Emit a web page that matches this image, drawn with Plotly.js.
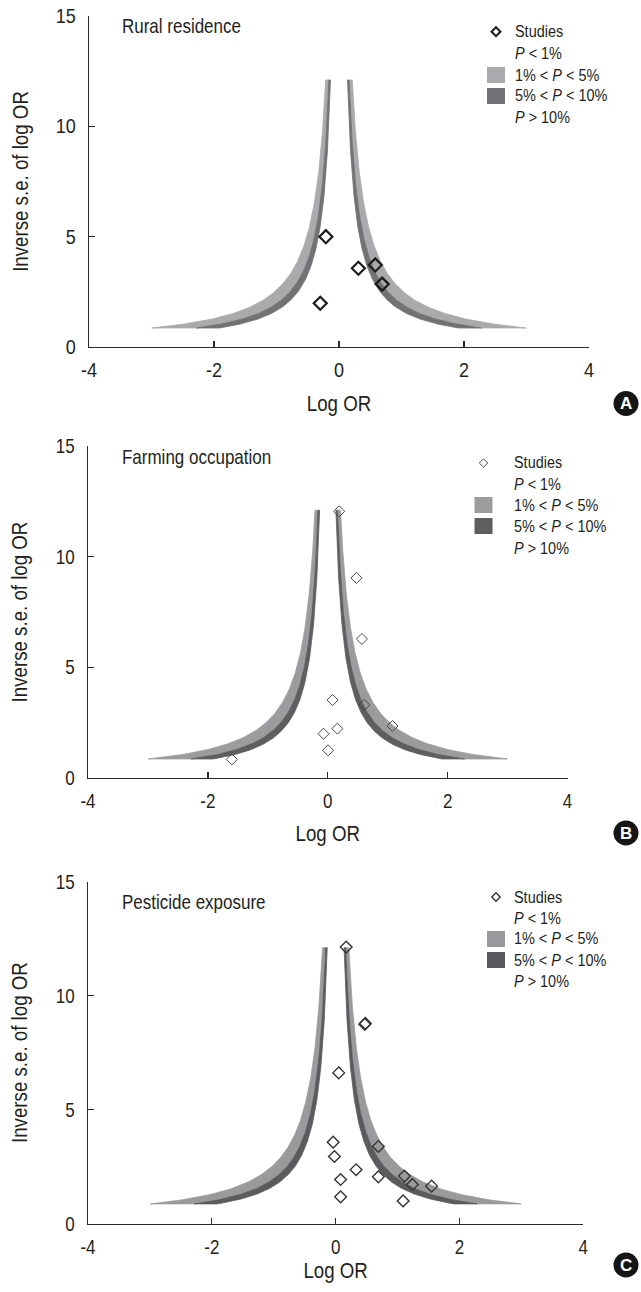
<!DOCTYPE html>
<html><head><meta charset="utf-8">
<script src="https://cdn.plot.ly/plotly-3.0.1.min.js"></script>
<style>html,body{margin:0;padding:0;background:#fff;overflow:hidden}</style>
</head><body><div id="chart" style="width:641px;height:1292px"></div>
<script>
// ---------- data ----------
const panelTitles = ['Rural residence', 'Farming occupation', 'Pesticide exposure'];
const panelLetters = ['A', 'B', 'C'];
const ruralX = [-0.21, -0.30, 0.31, 0.58, 0.69];
const ruralY = [5.0, 1.98, 3.57, 3.72, 2.85];
const farmingX = [0.19, 0.48, 0.57, 0.08, 0.61, 1.08, 0.16, -0.07, 0.005, -1.60];
const farmingY = [12.05, 9.04, 6.28, 3.52, 3.30, 2.35, 2.23, 2.0, 1.25, 0.84];
const pesticideX = [0.17, 0.47, 0.48, 0.05, -0.04, -0.02, 0.69, 0.33, 0.08, 0.69, 1.11, 1.24, 1.55, 0.08, 1.09];
const pesticideY = [12.13, 8.74, 8.78, 6.61, 3.57, 2.94, 3.38, 2.36, 1.93, 2.05, 2.08, 1.71, 1.64, 1.17, 0.99];
const zThresholds = [1.645, 1.96, 2.576];   // two-sided z for P = 10%, 5%, 1%
const invSeRange = [0.86, 12.1];            // extent of the contours on the y axis
const legendLabels = ['Studies', '<i>P</i> < 1%', '1% < <i>P</i> < 5%', '5% < <i>P</i> < 10%', '<i>P</i> > 10%'];
const xTicks = [-4, -2, 0, 2, 4];
const yTicks = [0, 5, 10, 15];
const xTitle = 'Log OR';
const yTitle = 'Inverse s.e. of log OR';

// ---------- layout / style ----------
const W = 641, H = 1292;
const FONT = '"Liberation Sans Narrow", "Arial Narrow", "Liberation Sans", Arial, sans-serif';
const TXT = '#231f20';
const panels = [
  {xs: ruralX, ys: ruralY, px: [89, 589], py: [347, 16], light: '#aaaaac', dark: '#727274',
   mk: {size: 10, w: 2.2, c: '#1c1c1c'}, titleY: 26, leg: {sx: 496, tx: 513, rows: [31.7, 53, 75, 96, 117]},
   letterY: 403.5, dsz: 4.5, dw: 2, xso: 15},
  {xs: farmingX, ys: farmingY, px: [88, 567.5], py: [778, 446], light: '#9c9c9e', dark: '#5e5e60',
   mk: {size: 8.5, w: 1, c: '#4a4a4a'}, titleY: 457, leg: {sx: 483.5, tx: 512, rows: [463, 484, 505, 526, 548]},
   letterY: 833, dsz: 4.2, dw: 1, xso: 14},
  {xs: pesticideX, ys: pesticideY, px: [88, 583.3], py: [1223.5, 881.7], light: '#9a9a9c', dark: '#5b5b5d',
   mk: {size: 9, w: 1.4, c: '#333333'}, titleY: 902, leg: {sx: 496, tx: 512, rows: [897, 918, 939, 960, 981]},
   letterY: 1265, dsz: 4.2, dw: 1.4, xso: 4}
];

function band(zIn, zOut, side) {
  const n = 160, ys = [];
  for (let i = 0; i <= n; i++) ys.push(invSeRange[0] * Math.pow(invSeRange[1] / invSeRange[0], i / n));
  const x = [], y = [];
  ys.forEach(v => { x.push(side * zOut / v); y.push(v); });
  ys.slice().reverse().forEach(v => { x.push(side * zIn / v); y.push(v); });
  x.push(x[0]); y.push(y[0]);
  return {x, y};
}

const traces = [];
const layout = {
  width: W, height: H, margin: {l: 0, r: 0, t: 0, b: 0},
  paper_bgcolor: '#fff', plot_bgcolor: 'rgba(0,0,0,0)', showlegend: false,
  font: {family: FONT, color: TXT},
  annotations: [], shapes: []
};

panels.forEach((p, i) => {
  const sfx = i === 0 ? '' : String(i + 1);
  const xa = 'x' + sfx, ya = 'y' + sfx;
  const bands = [[zThresholds[1], zThresholds[2], p.light], [zThresholds[0], zThresholds[1], p.dark]];
  bands.forEach(([zi, zo, col]) => {
    [1, -1].forEach(side => {
      const b = band(zi, zo, side);
      traces.push({type: 'scatter', mode: 'lines', x: b.x, y: b.y, xaxis: xa, yaxis: ya,
        fill: 'toself', fillcolor: col, line: {color: col, width: 0.8}, hoverinfo: 'skip', showlegend: false});
    });
  });
  traces.push({type: 'scatter', mode: 'markers', x: p.xs, y: p.ys, xaxis: xa, yaxis: ya, name: 'Studies',
    marker: {symbol: 'diamond-open', size: p.mk.size, color: p.mk.c, line: {width: p.mk.w, color: p.mk.c}},
    showlegend: false});

  const common = {showline: true, linecolor: '#2a2a2a', linewidth: 1.3, ticks: 'inside', ticklen: 6,
    tickwidth: 1.3, tickcolor: '#2a2a2a', showgrid: false, zeroline: false, fixedrange: true,
    tickfont: {family: FONT, size: 20, color: TXT}};
  layout['xaxis' + sfx] = Object.assign({}, common, {
    domain: [p.px[0] / W, p.px[1] / W], range: [-4, 4], anchor: ya, tickvals: xTicks, ticktext: xTicks.map(String),
    ticklabelstandoff: 5,
    title: {text: xTitle, font: {family: FONT, size: 22, color: TXT}, standoff: p.xso}});
  layout['yaxis' + sfx] = Object.assign({}, common, {
    domain: [1 - p.py[0] / H, 1 - p.py[1] / H], range: [0, 15], anchor: xa, tickvals: yTicks,
    ticklabelstandoff: 8,
    title: {text: yTitle, font: {family: FONT, size: 22, color: TXT}, standoff: 18}});

  layout.annotations.push({xref: 'paper', yref: 'paper', x: 120 / W, y: 1 - p.titleY / H, xanchor: 'left', align: 'left',
    yanchor: 'middle', showarrow: false, text: panelTitles[i], font: {family: FONT, size: 20, color: TXT}});
  legendLabels.forEach((t, k) => {
    layout.annotations.push({xref: 'paper', yref: 'paper', x: p.leg.tx / W, y: 1 - p.leg.rows[k] / H, align: 'left',
      xanchor: 'left', yanchor: 'middle', showarrow: false, text: t, font: {family: FONT, size: 17, color: TXT}});
  });
  const d = p.dsz;
  layout.shapes.push({type: 'path', xref: 'paper', yref: 'paper', xsizemode: 'pixel', ysizemode: 'pixel',
    xanchor: p.leg.sx / W, yanchor: 1 - p.leg.rows[0] / H,
    path: `M0,${d} L${d},0 L0,${-d} L${-d},0 Z`, line: {color: p.mk.c, width: p.dw}, fillcolor: 'rgba(0,0,0,0)'});
  [[2, p.light], [3, p.dark]].forEach(([k, col]) => {
    layout.shapes.push({type: 'rect', xref: 'paper', yref: 'paper', xsizemode: 'pixel', ysizemode: 'pixel',
      xanchor: p.leg.sx / W, yanchor: 1 - p.leg.rows[k] / H, x0: -9, x1: 9, y0: -8, y1: 8,
      fillcolor: col, line: {width: 0}});
  });
  layout.shapes.push({type: 'circle', xref: 'paper', yref: 'paper', xsizemode: 'pixel', ysizemode: 'pixel',
    xanchor: 626 / W, yanchor: 1 - p.letterY / H, x0: -12.5, x1: 12.5, y0: -12.5, y1: 12.5,
    fillcolor: '#151515', line: {width: 0}});
  layout.annotations.push({xref: 'paper', yref: 'paper', x: 626 / W, y: 1 - p.letterY / H, xanchor: 'center',
    yanchor: 'middle', showarrow: false, text: '<b>' + panelLetters[i] + '</b>',
    font: {family: 'Liberation Sans, Arial, sans-serif', size: 17, color: '#fff'}});
});

// condense the sans-serif text horizontally to imitate the narrow typeface of the original
function condense(gd) {
  gd.querySelectorAll('svg text').forEach(t => {
    const txt = t.textContent.trim();
    if (panelLetters.includes(txt) && t.classList.contains('annotation-text')) return;
    const isTick = !!t.closest('.xtick, .ytick');
    const s = isTick ? 0.9 : 0.85;
    const ax = parseFloat(t.getAttribute('x')) || 0;
    const old = t.getAttribute('transform') || '';
    t.setAttribute('transform', `${old} translate(${ax},0) scale(${s},1) translate(${-ax},0)`.trim());
  });
}

Plotly.newPlot('chart', traces, layout, {staticPlot: true, displayModeBar: false})
  .then(gd => condense(gd));
</script></body></html>
